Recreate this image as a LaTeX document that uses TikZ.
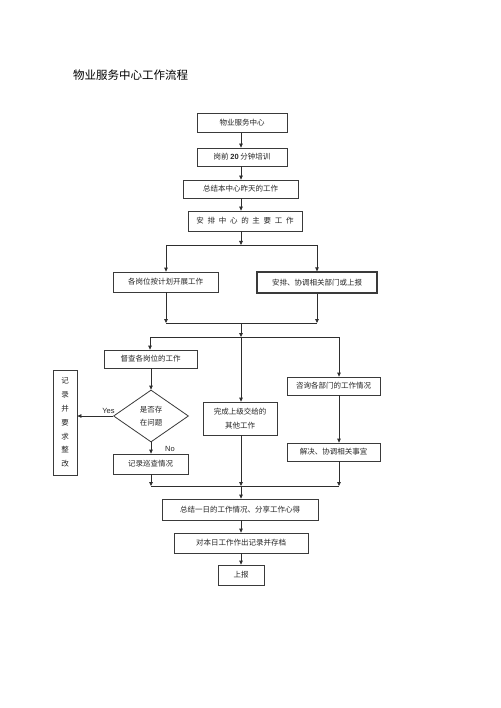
\documentclass[tikz,border=0pt]{standalone}
\usepackage{fontspec}
\setmainfont{Liberation Serif}
\newfontfamily\cjk{Noto Sans CJK SC}
\newfontfamily\lat{Liberation Sans}
\usetikzlibrary{arrows.meta,shapes.geometric}
\definecolor{linec}{HTML}{2E2E2E}
\definecolor{boxc}{HTML}{3A3A3A}
\definecolor{txtc}{HTML}{262626}
\begin{document}
\begin{tikzpicture}[x=1pt,y=-1pt,
  box/.style={draw=boxc, line width=0.8pt, fill=white, inner sep=0pt,
    font=\cjk\fontsize{7.5}{9}\selectfont, text=txtc},
  conn/.style={draw=linec, line width=0.8pt},
  arr/.style={conn, -{Triangle[length=4pt,width=3.6pt]}},
  lbl/.style={font=\lat\fontsize{7.5}{9}\selectfont, text=txtc, inner sep=0pt}]
\useasboundingbox[fill=white] (0,0) rectangle (500,708);

\node[anchor=west, inner sep=0pt, font=\cjk\fontsize{11.5}{13}\selectfont, text=black] (title) at (73,75) {物业服务中心工作流程};

\coordinate (spine) at (241,0);

\node[box, minimum width=90, minimum height=19] (b1) at (242,123) {物业服务中心};
\node[box, minimum width=90, minimum height=18] (b2) at (242,157) {岗前 {\lat\bfseries 20} 分钟培训};
\node[box, minimum width=115, minimum height=18] (b3) at (240.5,189) {总结本中心昨天的工作};
\node[box, minimum width=114, minimum height=20] (b4) at (245,221) {安\hspace{3.7pt}排\hspace{3.7pt}中\hspace{3.7pt}心\hspace{3.7pt}的\hspace{3.7pt}主\hspace{3.7pt}要\hspace{3.7pt}工\hspace{3.7pt}作};

\node[box, minimum width=105, minimum height=20] (b5) at (165.5,282) {各岗位按计划开展工作};
\node[box, line width=1.3pt, minimum width=120, minimum height=21] (b6) at (317,282.5) {安排、协调相关部门或上报};

\node[box, minimum width=93, minimum height=18] (b7) at (150.5,359) {督查各岗位的工作};
\node[box, shape=diamond, minimum width=75, minimum height=52, align=center,
  font=\cjk\fontsize{7.5}{12.5}\selectfont] (d) at (151,416) {是否存\\在问题};
\node[box, minimum width=24, minimum height=105, align=center,
  font=\cjk\fontsize{7.5}{13.8}\selectfont] (v) at (65,422.5) {记\\录\\并\\要\\求\\整\\改};
\node[box, minimum width=75, minimum height=20] (b8) at (150.5,464) {记录巡查情况};
\node[box, minimum width=74, minimum height=33, align=center,
  font=\cjk\fontsize{7.5}{14}\selectfont] (b9) at (240,418.5) {完成上级交给的\\其他工作};
\node[box, minimum width=93, minimum height=18] (b10) at (333.5,386) {咨询各部门的工作情况};
\node[box, minimum width=93, minimum height=18] (b11) at (333.5,452) {解决、协调相关事宜};

\node[box, minimum width=156, minimum height=21] (b12) at (240,509.5) {总结一日的工作情况、分享工作心得};
\node[box, minimum width=134, minimum height=20] (b13) at (241,543) {对本日工作作出记录并存档};
\node[box, minimum width=46, minimum height=20] (b14) at (241,575) {上报};

% top chain
\draw[arr] (b1.south -| spine) -- (b2.north -| spine);
\draw[arr] (b2.south -| spine) -- (b3.north -| spine);
\draw[arr] (b3.south -| spine) -- (b4.north -| spine);

% first split
\coordinate (j1) at (241,245);
\coordinate (j1L) at (166,245);
\coordinate (j1R) at (317,245);
\draw[arr] (b4.south -| spine) -- (j1);
\draw[conn] (j1L) -- (j1R);
\draw[arr] (j1L) -- (b5.north -| j1L);
\draw[arr] (j1R) -- (b6.north -| j1R);

% first merge
\coordinate (j2) at (241,323);
\coordinate (j2L) at (166,323);
\coordinate (j2R) at (317,323);
\draw[arr] (b5.south -| j2L) -- (j2L);
\draw[arr] (b6.south -| j2R) -- (j2R);
\draw[conn] (j2L) -- (j2R);

% second split
\coordinate (j3) at (241,337);
\coordinate (j3L) at (150,337);
\coordinate (j3R) at (339,337);
\draw[arr] (j2) -- (j3);
\draw[conn] (j3L) -- (j3R);
\draw[arr] (j3L) -- (b7.north -| j3L);
\draw[arr] (j3) -- (b9.north -| j3);
\draw[arr] (j3R) -- (b10.north -| j3R);

% left branch
\draw[arr] (b7.south -| d.north) -- (d.north);
\draw[arr] (d.west) -- (v.east |- d.west);
\node[lbl] (yes) at (108.5,411) {Yes};
\draw[arr] (d.south) -- (b8.north -| d.south);
\node[lbl] (no) at (170,449) {No};

% right branch
\draw[arr] (b10.south -| j3R) -- (b11.north -| j3R);

% second merge
\coordinate (j4) at (241,486);
\coordinate (j4L) at (151,486);
\coordinate (j4R) at (339,486);
\draw[arr] (b8.south -| j4L) -- (j4L);
\draw[arr] (b9.south -| j4) -- (j4);
\draw[arr] (b11.south -| j4R) -- (j4R);
\draw[conn] (j4L) -- (j4R);

% bottom chain
\draw[arr] (j4) -- (b12.north -| j4);
\draw[arr] (b12.south -| spine) -- (b13.north -| spine);
\draw[arr] (b13.south -| spine) -- (b14.north -| spine);
\end{tikzpicture}
\end{document}
